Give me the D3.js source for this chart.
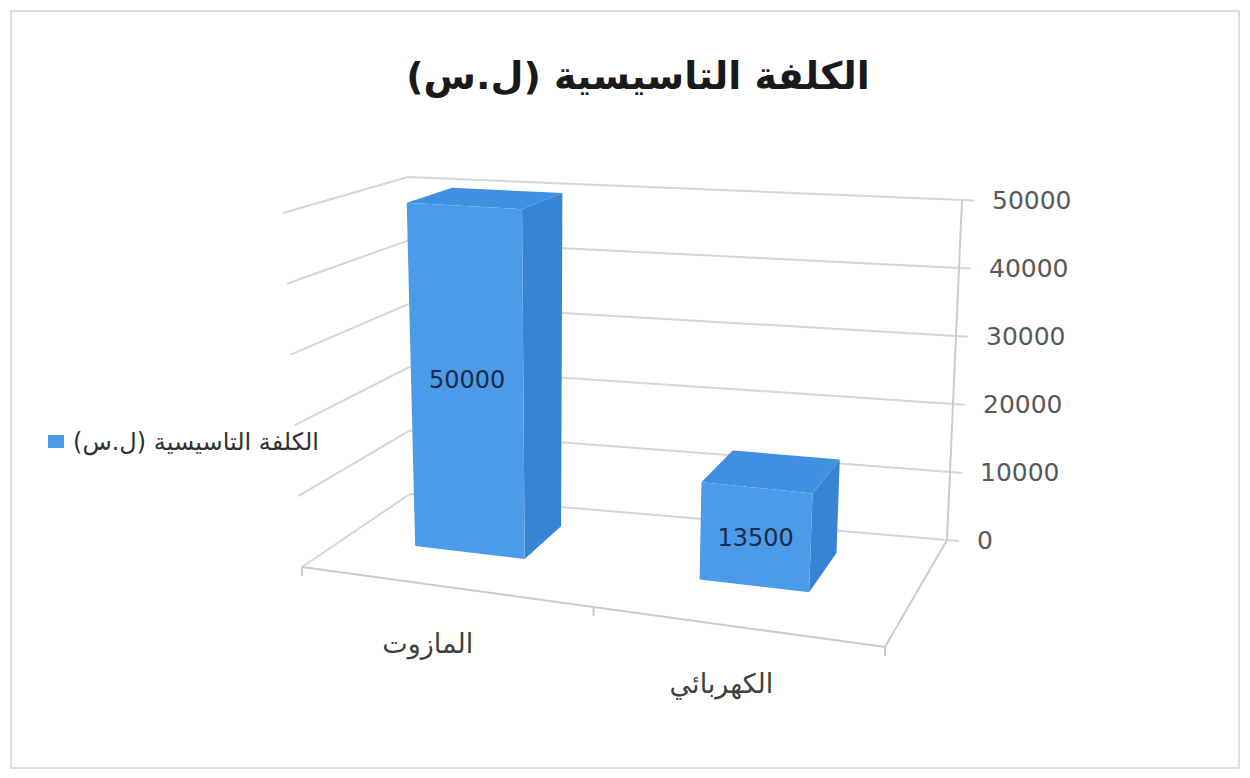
<!DOCTYPE html>
<html lang="ar">
<head>
<meta charset="utf-8">
<title>الكلفة التاسيسية</title>
<script src="https://cdn.jsdelivr.net/npm/d3@7"></script>
<style>
  body { margin: 0; background: #fff; }
  .ar { font-family: "DejaVu Sans", sans-serif; }
  .num { font-family: "DejaVu Sans", sans-serif; }
</style>
</head>
<body>
<svg id="chart" width="1250" height="778"></svg>
<script>
// data
var categories = ["المازوت", "الكهربائي"];
var values = [50000, 13500];
var yTicks = [0, 10000, 20000, 30000, 40000, 50000];
var seriesName = "الكلفة التاسيسية (ل.س)";
var chartTitle = "الكلفة التاسيسية (ل.س)";

var svg = d3.select("#chart");

// frame
svg.append("rect")
  .attr("x", 11).attr("y", 11).attr("width", 1228).attr("height", 757)
  .attr("fill", "#fff").attr("stroke", "#d4d4d4").attr("stroke-width", 1.5);

// corners of the 3d box on screen (front / back, bottom / top)
var box = {
  FLB: [302, 567], FRB: [885, 647], BLB: [410, 494], BRB: [947, 540],
  FLT: [283, 213], FRT: [905, 253], BLT: [408, 177], BRT: [962, 200]
};

function lerp(a, b, t) { return [a[0] + (b[0] - a[0]) * t, a[1] + (b[1] - a[1]) * t]; }

// u: across categories, v: value (0..1), w: depth (0 front, 1 back)
function proj(u, v, w) {
  var fb = lerp(box.FLB, box.FRB, u), ft = lerp(box.FLT, box.FRT, u);
  var bb = lerp(box.BLB, box.BRB, u), bt = lerp(box.BLT, box.BRT, u);
  var f = lerp(fb, ft, v), b = lerp(bb, bt, v);
  return lerp(f, b, w);
}

var x = d3.scaleBand().domain(categories).range([0, 1])
  .paddingInner(0.615).paddingOuter(0.3).align(0.41);
var y = d3.scaleLinear().domain([0, 50000]).range([0, 1]);

var line = d3.line();
var gridColor = "#d6d6d6";

// left wall + back wall gridlines
var grid = svg.append("g").attr("fill", "none").attr("stroke", gridColor).attr("stroke-width", 2);
yTicks.forEach(function(t) {
  var v = y(t);
  grid.append("path").attr("d", line([proj(0, v, 0), proj(0, v, 1)]));
  var r = proj(1, v, 1), l = proj(0, v, 1);
  var dx = r[0] - l[0], dy = r[1] - l[1], len = Math.hypot(dx, dy);
  grid.append("path").attr("d", line([l, r, [r[0] + dx / len * 12, r[1] + dy / len * 12]]));
});

// value axis edge and floor edges
var edges = svg.append("g").attr("fill", "none").attr("stroke", "#cccccc").attr("stroke-width", 2);
edges.append("path").attr("d", line([proj(1, 0, 1), proj(1, 1, 1)]));
edges.append("path").attr("d", line([proj(0, 0, 0), proj(1, 0, 0), proj(1, 0, 1)]));
[0, 0.5, 1].forEach(function(u) {
  var p = proj(u, 0, 0);
  edges.append("path").attr("d", line([p, [p[0], p[1] + 9]]));
});

// value tick labels
svg.append("g").selectAll("text").data(yTicks).join("text")
  .attr("class", "num")
  .attr("x", function(d) { return proj(1, y(d), 1)[0] + 30; })
  .attr("y", function(d) { return proj(1, y(d), 1)[1] + 9; })
  .attr("font-size", 25).attr("fill", "#595959")
  .text(function(d) { return d; });

// bars
var z0 = 0.4, z1 = 0.79;
var bars = svg.append("g");
categories.forEach(function(c, i) {
  var u0 = x(c), u1 = u0 + x.bandwidth(), v = y(values[i]);
  var g = bars.append("g");
  g.append("path").attr("fill", "#3884d4")
    .attr("d", line([proj(u1, 0, z0), proj(u1, 0, z1), proj(u1, v, z1), proj(u1, v, z0)]) + "Z");
  g.append("path").attr("fill", "#418fe0")
    .attr("d", line([proj(u0, v, z0), proj(u1, v, z0), proj(u1, v, z1), proj(u0, v, z1)]) + "Z");
  g.append("path").attr("fill", "#4b9be9")
    .attr("d", line([proj(u0, 0, z0), proj(u1, 0, z0), proj(u1, v, z0), proj(u0, v, z0)]) + "Z");
  var m = proj((u0 + u1) / 2, v / 2, z0);
  g.append("text").attr("class", "num")
    .attr("x", m[0]).attr("y", m[1] + 9)
    .attr("text-anchor", "middle").attr("font-size", 24).attr("fill", "#1c2b4a")
    .text(values[i]);
});

// category labels
svg.append("g").selectAll("text").data(categories).join("text")
  .attr("class", "ar")
  .attr("x", function(d) { return proj(x(d) + x.bandwidth() / 2, 0, 0)[0] - 3; })
  .attr("y", function(d) { return proj(x(d) + x.bandwidth() / 2, 0, 0)[1] + 68; })
  .attr("text-anchor", "middle").attr("font-size", 27).attr("fill", "#404040")
  .text(function(d) { return d; });

// title
svg.append("text").attr("class", "ar")
  .attr("x", 638).attr("y", 89)
  .attr("text-anchor", "middle").attr("font-size", 38).attr("font-weight", "bold")
  .attr("fill", "#1a1a1a")
  .text(chartTitle);

// legend
var lg = svg.append("g");
lg.append("rect").attr("x", 48).attr("y", 435).attr("width", 16).attr("height", 13).attr("fill", "#4b9be9");
lg.append("text").attr("class", "ar")
  .attr("x", 319).attr("y", 450)
  .attr("text-anchor", "end").attr("font-size", 24).attr("fill", "#303030")
  .text(seriesName);
</script>
</body>
</html>
